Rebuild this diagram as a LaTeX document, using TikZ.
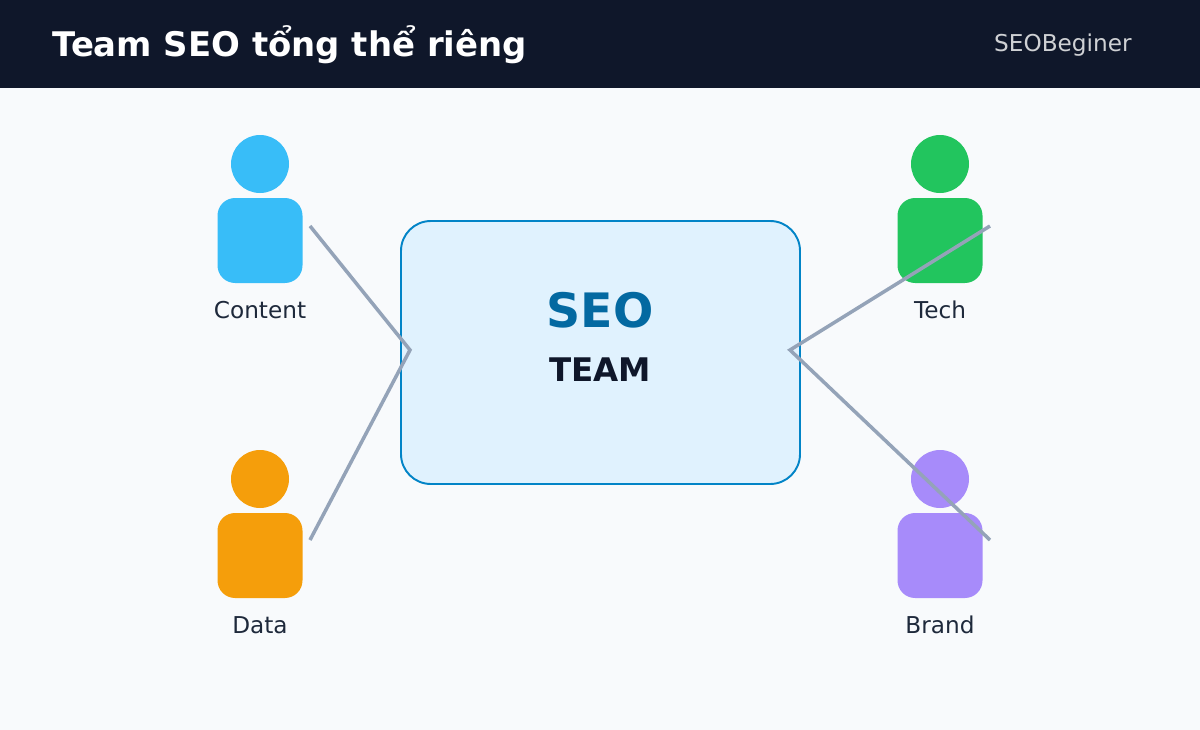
\documentclass[tikz,border=0pt]{standalone}
\usepackage{fontspec}
\setmainfont{DejaVu Sans}
\usetikzlibrary{positioning}
\definecolor{headbg}{HTML}{0F172A}
\definecolor{pagebg}{HTML}{F8FAFC}
\definecolor{boxfill}{HTML}{E0F2FE}
\definecolor{boxline}{HTML}{0284C7}
\definecolor{seoblue}{HTML}{0369A1}
\definecolor{linkgray}{HTML}{94A3B8}
\definecolor{labelgray}{HTML}{1E293B}
\definecolor{ccontent}{HTML}{38BDF8}
\definecolor{ctech}{HTML}{22C55E}
\definecolor{cdata}{HTML}{F59E0B}
\definecolor{cbrand}{HTML}{A78BFA}
\begin{document}
\begin{tikzpicture}[
		x=0.02cm, y=-0.02cm,
		every node/.style={inner sep=0pt},
		head/.style={circle, minimum size=58*0.02cm},
		body/.style={rounded corners=10pt, minimum width=85*0.02cm, minimum height=85*0.02cm},
		role/.style={text=labelgray, font=\fontsize{13.2}{15}\selectfont},
		link/.style={linkgray, line width=2pt}
		]
	
	% Background and header
	\fill[pagebg] (0, 0) rectangle (1200, 730);
	\fill[headbg] (0, 0) rectangle (1200, 88);
	\node[anchor=west, text=white, font=\fontsize{19.3}{22}\bfseries\selectfont] (title) at (52, 45) {Team SEO tổng thể riêng};
	\node[anchor=east, text=white!80!headbg, font=\fontsize{13.2}{15}\selectfont] (brandname) at (1132, 45) {SEOBeginer};
	
	% Central box
	\draw[boxline, fill=boxfill, line width=1.1pt, rounded corners=17pt] (401, 221) rectangle (800, 484);
	\node[text=seoblue, font=\fontsize{27}{30}\bfseries\selectfont] (seo) at (600, 310) {SEO};
	\node[text=headbg, font=\fontsize{18.5}{22}\bfseries\selectfont] (team) at (600, 370) {TEAM};
	
	% Persons
	\foreach \name/\x/\y/\col/\label in {content/260/0/ccontent/Content, tech/940/0/ctech/Tech, data/260/315/cdata/Data, brand/940/315/cbrand/Brand}{
		\node[head, fill=\col] (\name head) at (\x, 164+\y) {};
		\node[body, fill=\col] (\name body) at (\x, 240.5+\y) {};
		\node[role] (\name label) at (\x, 310+\y) {\label};
	}
	
	% Connectors
	\coordinate (hubL) at (410, 350);
	\coordinate (hubR) at (790, 350);
	\coordinate (endcontent) at (310, 226);
	\coordinate (enddata) at (310, 540);
	\coordinate (endtech) at (990, 226);
	\coordinate (endbrand) at (990, 540);
	\draw[link] (endcontent) -- (hubL) -- (enddata);
	\draw[link] (endtech) -- (hubR) -- (endbrand);
	
\end{tikzpicture}
\end{document}
